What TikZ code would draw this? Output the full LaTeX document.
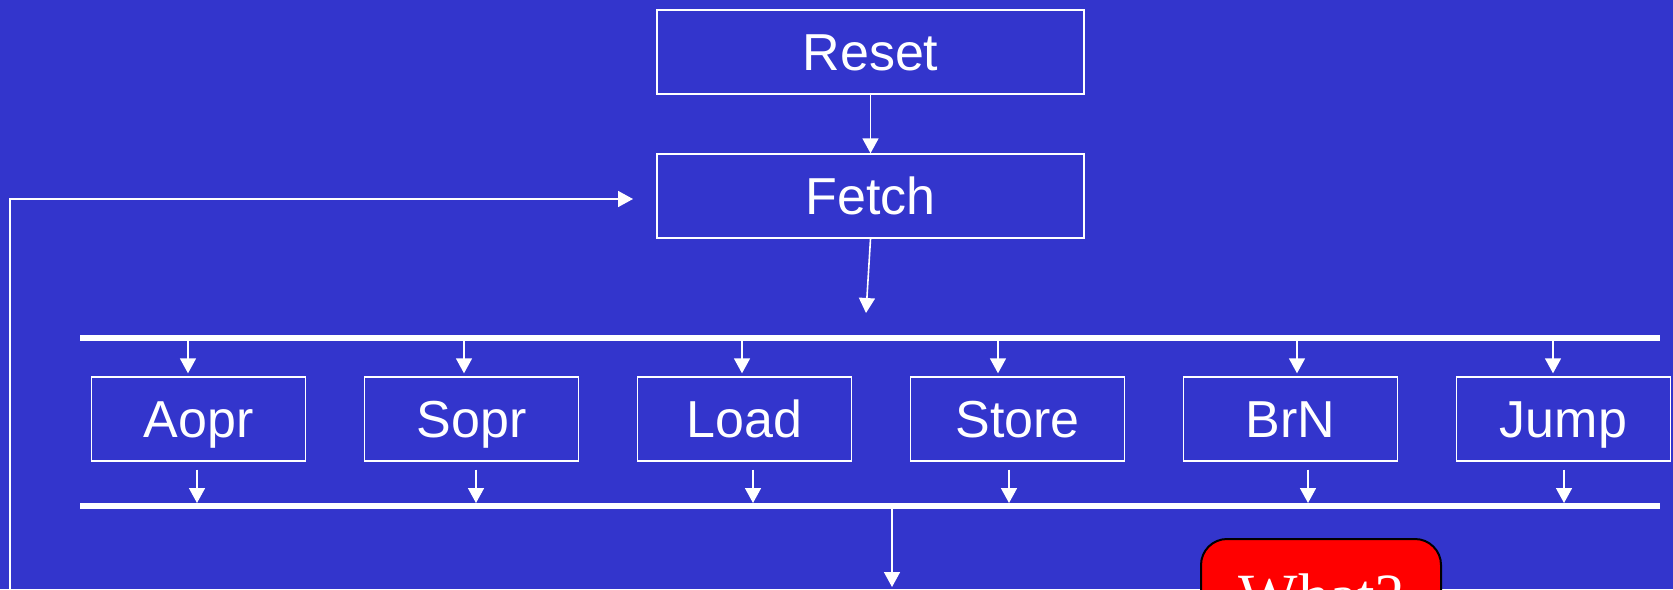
\documentclass[tikz,border=0pt]{standalone}
\usepackage{fontspec}
\setmainfont{Liberation Sans}
\newfontfamily\whatfont{Liberation Serif}
\usetikzlibrary{arrows.meta}
\definecolor{bgblue}{RGB}{51,53,204}
\begin{document}
\begin{tikzpicture}[x=0.5pt,y=-0.5pt,
  stepbox/.style={draw=white, line width=0.7pt, text=white, inner sep=0pt,
    minimum width=107pt, minimum height=42pt,
    font=\fontsize{26}{31}\selectfont, text height=18.6pt, text depth=0pt},
  bigbox/.style={stepbox, minimum width=213.5pt},
  arr/.style={draw=white, line width=0.8pt, -{Triangle[length=7.5pt,width=8pt]}},
  bus/.style={draw=white, line width=2.8pt},
  whatbox/.style={draw=black, line width=1pt, fill=red, text=white,
    rounded corners=13pt, inner xsep=0pt, inner ysep=0pt, minimum width=120pt,
    font=\whatfont\fontsize{31.5}{36}\selectfont, text height=39pt, text depth=25pt}]
\useasboundingbox (0,0) rectangle (1673,589);
\clip (0,0) rectangle (1673,589);
\fill[bgblue] (0,0) rectangle (1673,589);

\node[bigbox] (reset) at (870.5,52) {Reset};
\node[bigbox] (fetch) at (870.5,196) {Fetch};

\node[stepbox] (aopr)  at (198.5,419) {Aopr};
\node[stepbox] (sopr)  at (471.5,419) {Sopr};
\node[stepbox] (load)  at (744.5,419) {Load};
\node[stepbox] (store) at (1017.5,419) {Store};
\node[stepbox] (brn)   at (1290.5,419) {BrN};
\node[stepbox] (jump)  at (1563.5,419) {Jump};

\node[whatbox, anchor=north] (what) at (1321,538) {What?};

% buses
\coordinate (busTL) at (80,338);
\coordinate (busTR) at (1660,338);
\coordinate (busBL) at (80,506);
\coordinate (busBR) at (1660,506);
\draw[bus] (busTL) -- (busTR);
\draw[bus] (busBL) -- (busBR);

% reset -> fetch -> bus
\draw[arr] (reset.south) -- (fetch.north);
\coordinate (fetchin) at (866,313);
\draw[arr] (fetch.south) -- (fetchin);

% loop back
\coordinate (loopbot) at (10,600);
\coordinate (loopin) at (633,199);
\draw[arr] (loopbot) |- (loopin);

% bus -> boxes
\foreach \x/\n in {188/aopr,464/sopr,742/load,998/store,1297/brn,1553/jump}{
  \coordinate (t\n) at (\x,338);
  \draw[arr, shorten >=1.5pt] (t\n) -- (t\n |- \n.north);
}
% boxes -> bottom bus
\foreach \x/\n in {197/aopr,476/sopr,753/load,1009/store,1308/brn,1564/jump}{
  \coordinate (b\n) at (\x,506);
  \draw[arr, shorten <=4pt, shorten >=1.5pt] (b\n |- \n.south) -- (b\n);
}
% out of bottom bus
\coordinate (busout) at (892,506);
\coordinate (outend) at (892,587);
\draw[arr] (busout) -- (outend);
\end{tikzpicture}
\end{document}
